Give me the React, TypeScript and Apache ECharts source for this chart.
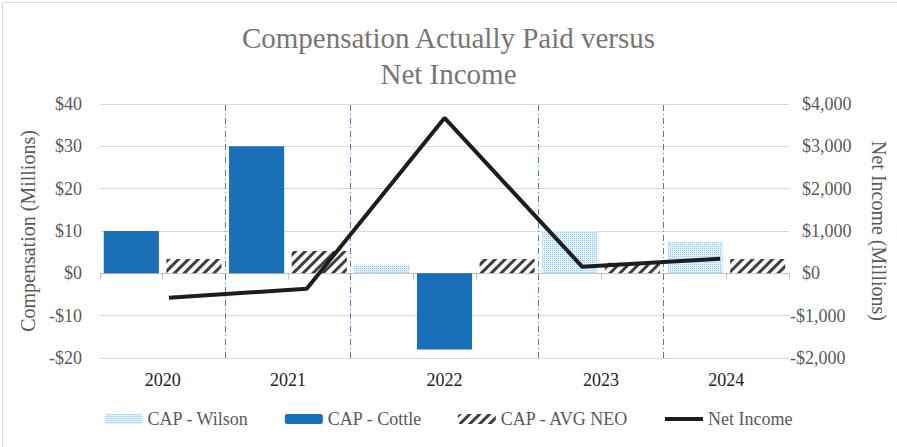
import React, { useEffect, useRef } from 'react';
import * as echarts from 'echarts';

// Category slots (one per bar), grouped by year
const years = ['2020', '2021', '2022', '2023', '2024'];
const slotYears = ['2020', '2020', '2021', '2021', '2022', '2022', '2022', '2023', '2023', '2024', '2024'];
const slotNames = ['Cottle', 'AVG NEO', 'Cottle', 'AVG NEO', 'Wilson', 'Cottle', 'AVG NEO', 'Wilson', 'AVG NEO', 'Wilson', 'AVG NEO'];

// Compensation Actually Paid ($ millions)
const capWilson = [null, null, null, null, 2.0, null, null, 10.0, null, 7.4, null];
const capCottle = [10, null, 30, null, null, -18, null, null, null, null, null];
const capAvgNeo = [null, 3.4, null, 5.3, null, null, 3.4, null, 2.5, null, 3.4];

// Net Income ($ millions)
const netIncome = [-575, -365, 3670, 155, 345];

// Axis ranges
const compMin = -20;
const compMax = 40;
const compStep = 10;
const netMin = -2000;
const netMax = 4000;
const netStep = 1000;

const FONT = 'Liberation Serif';

export default function App() {
  const ref = useRef<HTMLDivElement>(null);

  useEffect(() => {
    if (!ref.current) return;
    const chart = echarts.init(ref.current, undefined, { renderer: 'svg' });

    // group starts / centers derived from slots
    const starts = years.map((y) => slotYears.indexOf(y));
    const counts = years.map((y) => slotYears.filter((s) => s === y).length);
    const centers = starts.map((s, i) => s + counts[i] / 2);
    const boundaries = starts.slice(1);
    const nSlots = slotYears.length;

    const fmtComp = (v: number) => (v < 0 ? '-$' : '$') + Math.abs(v);
    const fmtNet = (v: number) =>
      v < 0
        ? '-$' + Math.abs(v).toLocaleString('en-US')
        : '{p|$' + v.toLocaleString('en-US') + '}';

    const option: any = {
      animation: false,
      backgroundColor: '#ffffff',
      textStyle: { fontFamily: FONT },
      title: {
        text: 'Compensation Actually Paid versus\nNet Income',
        left: 'center',
        top: 15,
        textStyle: {
          fontFamily: FONT,
          fontSize: 29,
          fontWeight: 'normal',
          color: '#767676',
          lineHeight: 36,
        },
      },
      legend: {
        data: [
          'CAP - Wilson',
          'CAP - Cottle',
          'CAP - AVG NEO',
          { name: 'Net Income', icon: 'path://M0,0 L40,0 L40,4 L0,4 Z' },
        ],
        left: 'center',
        top: 405,
        itemGap: 36,
        itemWidth: 38,
        itemHeight: 10,
        textStyle: { fontFamily: FONT, fontSize: 18, color: '#595959' },
      },
      grid: { left: 100, right: 107, top: 104, bottom: 89 },
      xAxis: [
        {
          type: 'category',
          data: slotYears.map((y, i) => y + ' ' + slotNames[i]),
          show: false,
        },
        {
          type: 'category',
          data: years,
          show: false,
        },
        {
          type: 'value',
          position: 'bottom',
          min: 0,
          max: nSlots,
          axisLine: {
            show: true,
            onZero: true,
            onZeroAxisIndex: 0,
            lineStyle: { color: '#bfbfbf', width: 1 },
          },
          axisTick: {
            show: true,
            length: 6,
            customValues: [0, 1, 3, 5, 6, 8, 10, 11],
            lineStyle: { color: '#bfbfbf' },
          },
          axisLabel: { show: false },
          splitLine: { show: false },
        },
        {
          type: 'value',
          position: 'bottom',
          min: 0,
          max: nSlots,
          axisLine: { show: false, onZero: false },
          axisTick: { show: false },
          splitLine: { show: false },
          axisLabel: {
            show: true,
            customValues: centers,
            formatter: (v: number) => {
              const i = centers.indexOf(v);
              return i >= 0 ? years[i] : '';
            },
            margin: 13,
            fontFamily: FONT,
            fontSize: 18,
            color: '#222222',
          },
        },
      ],
      yAxis: [
        {
          type: 'value',
          min: compMin,
          max: compMax,
          interval: compStep,
          name: 'Compensation (Millions)',
          nameLocation: 'middle',
          nameGap: 56,
          nameTextStyle: { fontFamily: FONT, fontSize: 20, color: '#595959' },
          axisLine: { show: false },
          axisTick: { show: false },
          axisLabel: {
            formatter: fmtComp,
            margin: 18,
            fontFamily: FONT,
            fontSize: 18,
            color: '#595959',
          },
          splitLine: { lineStyle: { color: '#d9d9d9', width: 1 } },
        },
        {
          type: 'value',
          min: netMin,
          max: netMax,
          interval: netStep,
          position: 'right',
          name: 'Net Income (Millions)',
          nameLocation: 'middle',
          nameRotate: -90,
          nameGap: 80,
          nameTextStyle: { fontFamily: FONT, fontSize: 20, color: '#595959' },
          axisLine: { show: false },
          axisTick: { show: false },
          axisLabel: {
            formatter: fmtNet,
            margin: 1,
            fontFamily: FONT,
            fontSize: 18,
            color: '#595959',
            rich: {
              p: { padding: [0, 0, 0, 12], fontFamily: FONT, fontSize: 18, color: '#595959' },
            },
          },
          splitLine: { show: false },
        },
      ],
      series: [
        {
          name: 'CAP - Wilson',
          type: 'bar',
          xAxisIndex: 0,
          yAxisIndex: 0,
          data: capWilson,
          barWidth: '88%',
          barGap: '-100%',
          itemStyle: {
            color: '#e2f1fc',
            decal: {
              symbol: 'rect',
              symbolSize: 1,
              dashArrayX: [1, 1],
              dashArrayY: [1, 1],
              color: '#8fcaf0',
            },
          },
        },
        {
          name: 'CAP - Cottle',
          type: 'bar',
          xAxisIndex: 0,
          yAxisIndex: 0,
          data: capCottle,
          barWidth: '88%',
          barGap: '-100%',
          itemStyle: { color: '#1a6fb9' },
        },
        {
          name: 'CAP - AVG NEO',
          type: 'bar',
          xAxisIndex: 0,
          yAxisIndex: 0,
          data: capAvgNeo,
          barWidth: '88%',
          barGap: '-100%',
          itemStyle: {
            color: '#ffffff',
            decal: {
              symbol: 'rect',
              symbolSize: 1,
              dashArrayX: [1, 0],
              dashArrayY: [3, 4],
              rotation: -Math.PI / 4,
              color: '#3f3f3f',
            },
          },
        },
        {
          name: 'Net Income',
          type: 'line',
          xAxisIndex: 1,
          yAxisIndex: 1,
          data: netIncome,
          symbol: 'none',
          showSymbol: false,
          z: 10,
          lineStyle: { color: '#1d1d1d', width: 4 },
          itemStyle: { color: '#1d1d1d' },
        },
        {
          name: 'dividers',
          type: 'line',
          xAxisIndex: 2,
          yAxisIndex: 0,
          data: [],
          silent: true,
          markLine: {
            silent: true,
            symbol: ['none', 'none'],
            label: { show: false },
            lineStyle: { color: '#4f7fc0', type: [6, 3, 1, 3], width: 1 },
            data: boundaries.map((b) => ({ xAxis: b })),
          },
        },
      ],
      graphic: [
        {
          type: 'rect',
          left: 0,
          top: 0,
          shape: { x: 0, y: 0, width: 896, height: 446 },
          style: { fill: 'none', stroke: '#d9d9d9', lineWidth: 1 },
          silent: true,
        },
      ],
    };

    chart.setOption(option);
    return () => chart.dispose();
  }, []);

  return (
    <div
      ref={ref}
      style={{ position: 'fixed', left: 0, top: 0, width: 897, height: 447 }}
    />
  );
}
